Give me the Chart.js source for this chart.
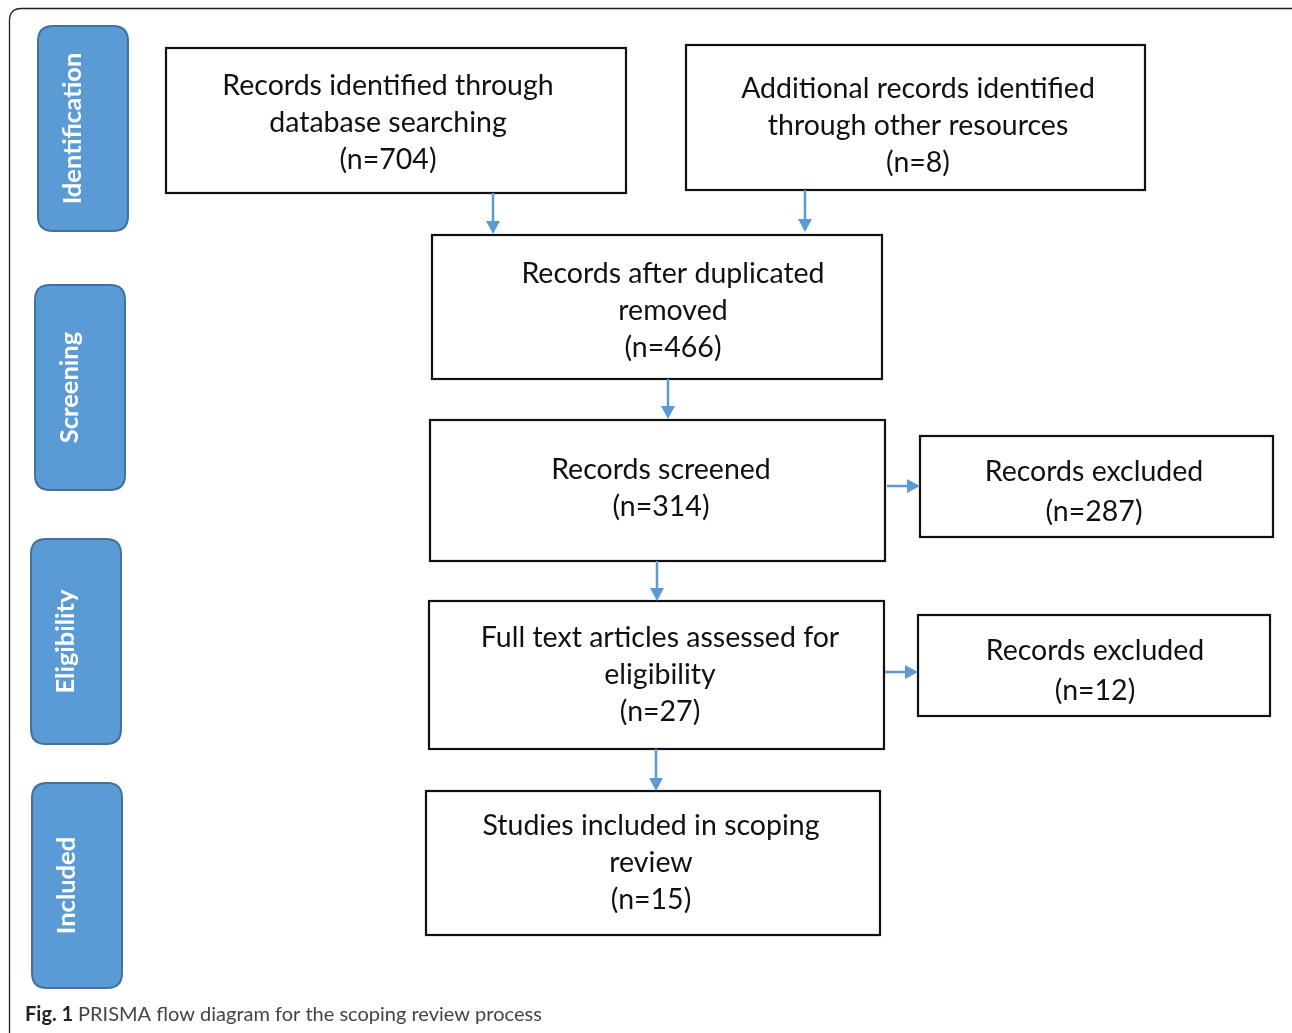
<!DOCTYPE html>
<html>
<head>
<meta charset="utf-8">
<script src="https://cdn.jsdelivr.net/npm/chart.js@4/dist/chart.umd.min.js"></script>
<style>
  body { margin: 0; background: #fff; }
  #wrap { width: 1292px; height: 1033px; position: relative; }
</style>
</head>
<body>
<div id="wrap"><canvas id="prisma" width="1292" height="1033"></canvas></div>
<script>
// PRISMA flow - text and counts
const stages = ['Identification', 'Screening', 'Eligibility', 'Included'];
const boxTexts = [
  ['Records identified through', 'database searching'],
  ['Additional records identified', 'through other resources'],
  ['Records after duplicated', 'removed'],
  ['Records screened'],
  ['Records excluded'],
  ['Full text articles assessed for', 'eligibility'],
  ['Records excluded'],
  ['Studies included in scoping', 'review']
];
const boxCounts = [704, 8, 466, 314, 287, 27, 12, 15];
const caption = ['Fig. 1', 'PRISMA flow diagram for the scoping review process'];

// layout (page units, y grows downwards)
const boxRects = [
  [166, 48, 626, 193], [686, 45, 1145, 190], [432, 235, 882, 379],
  [430, 420, 885, 561], [920, 436, 1273, 537], [429, 601, 884, 749],
  [918, 615, 1270, 716], [426, 791, 880, 935]
];
const textX = [388, 918, 673, 661, 1094, 660, 1095, 651];
const textTop = [86, 89, 274, 470, 472, 638, 651, 826];
const lineGap = [37, 37, 37, 37, 40, 37, 40, 37];
const stageRects = [[38, 26, 128, 231], [35, 285, 125, 490], [31, 539, 121, 744], [32, 783, 122, 988]];
const arrows = [
  [493, 193, 493, 234], [805, 190, 805, 232], [668, 379, 668, 419],
  [657, 561, 657, 601], [656, 749, 656, 791], [887, 486, 920, 486], [885, 672, 918, 672]
];

const FONT = 'Lato, "Open Sans", sans-serif';
const BLUE = '#5b9bd5';

function roundRect(ctx, x, y, w, h, r) {
  ctx.beginPath();
  ctx.moveTo(x + r, y);
  ctx.lineTo(x + w - r, y);
  ctx.quadraticCurveTo(x + w, y, x + w, y + r);
  ctx.lineTo(x + w, y + h - r);
  ctx.quadraticCurveTo(x + w, y + h, x + w - r, y + h);
  ctx.lineTo(x + r, y + h);
  ctx.quadraticCurveTo(x, y + h, x, y + h - r);
  ctx.lineTo(x, y + r);
  ctx.quadraticCurveTo(x, y, x + r, y);
  ctx.closePath();
}

const flowPlugin = {
  id: 'flow',
  afterDraw(chart) {
    const ctx = chart.ctx;
    const sx = v => chart.scales.x.getPixelForValue(v);
    const sy = v => chart.scales.y.getPixelForValue(v);
    ctx.save();

    // outer frame (runs off the page on right and bottom)
    ctx.strokeStyle = '#222';
    ctx.lineWidth = 1.3;
    roundRect(ctx, sx(9.5), sy(8.5), sx(1310) - sx(9.5), sy(1050) - sy(8.5), 12);
    ctx.stroke();

    // stage labels
    stageRects.forEach((r, i) => {
      const x0 = sx(r[0]), y0 = sy(r[1]), x1 = sx(r[2]), y1 = sy(r[3]);
      roundRect(ctx, x0, y0, x1 - x0, y1 - y0, 15);
      ctx.fillStyle = BLUE;
      ctx.fill();
      ctx.strokeStyle = '#41719c';
      ctx.lineWidth = 2;
      ctx.stroke();
      ctx.save();
      ctx.translate((x0 + x1) / 2 - 10, (y0 + y1) / 2);
      ctx.rotate(-Math.PI / 2);
      ctx.fillStyle = '#fff';
      ctx.font = 'bold 25.5px ' + FONT;
      ctx.textAlign = 'center';
      ctx.textBaseline = 'middle';
      ctx.fillText(stages[i], 0, 0);
      ctx.restore();
    });

    // boxes
    boxRects.forEach((r, i) => {
      const x0 = sx(r[0]), y0 = sy(r[1]), x1 = sx(r[2]), y1 = sy(r[3]);
      ctx.fillStyle = '#fff';
      ctx.fillRect(x0, y0, x1 - x0, y1 - y0);
      ctx.strokeStyle = '#111';
      ctx.lineWidth = 2.2;
      ctx.strokeRect(x0, y0, x1 - x0, y1 - y0);
      const lines = boxTexts[i].concat(['(n=' + boxCounts[i] + ')']);
      ctx.fillStyle = '#111';
      ctx.font = '28.5px ' + FONT;
      ctx.textAlign = 'center';
      ctx.textBaseline = 'middle';
      lines.forEach((t, k) => {
        ctx.fillText(t, sx(textX[i]), sy(textTop[i] + k * lineGap[i]));
      });
    });

    // arrows
    ctx.strokeStyle = BLUE;
    ctx.fillStyle = BLUE;
    ctx.lineWidth = 2.5;
    arrows.forEach(a => {
      const x0 = sx(a[0]), y0 = sy(a[1]), x1 = sx(a[2]), y1 = sy(a[3]);
      const ang = Math.atan2(y1 - y0, x1 - x0);
      const hl = 13, hw = 7;
      const bx = x1 - hl * Math.cos(ang), by = y1 - hl * Math.sin(ang);
      ctx.beginPath();
      ctx.moveTo(x0, y0);
      ctx.lineTo(bx, by);
      ctx.stroke();
      ctx.beginPath();
      ctx.moveTo(x1, y1);
      ctx.lineTo(bx + hw * Math.sin(ang), by - hw * Math.cos(ang));
      ctx.lineTo(bx - hw * Math.sin(ang), by + hw * Math.cos(ang));
      ctx.closePath();
      ctx.fill();
    });

    // caption
    ctx.textAlign = 'left';
    ctx.textBaseline = 'alphabetic';
    ctx.fillStyle = '#222';
    ctx.font = 'bold 20px ' + FONT;
    ctx.fillText(caption[0], sx(25), sy(1021));
    const w = ctx.measureText(caption[0] + ' ').width;
    ctx.fillStyle = '#444';
    ctx.font = '20px ' + FONT;
    ctx.fillText(caption[1], sx(25) + w, sy(1021));
    ctx.restore();
  }
};

new Chart(document.getElementById('prisma'), {
  type: 'scatter',
  data: {
    datasets: [{
      data: boxRects.map((r, i) => ({ x: (r[0] + r[2]) / 2, y: (r[1] + r[3]) / 2, n: boxCounts[i] })),
      pointRadius: 0
    }]
  },
  options: {
    responsive: false,
    animation: false,
    devicePixelRatio: 1,
    layout: { padding: 0 },
    plugins: { legend: { display: false }, tooltip: { enabled: false } },
    scales: {
      x: { type: 'linear', min: 0, max: 1292, display: false },
      y: { type: 'linear', min: 0, max: 1033, reverse: true, display: false }
    }
  },
  plugins: [flowPlugin]
});
</script>
</body>
</html>
